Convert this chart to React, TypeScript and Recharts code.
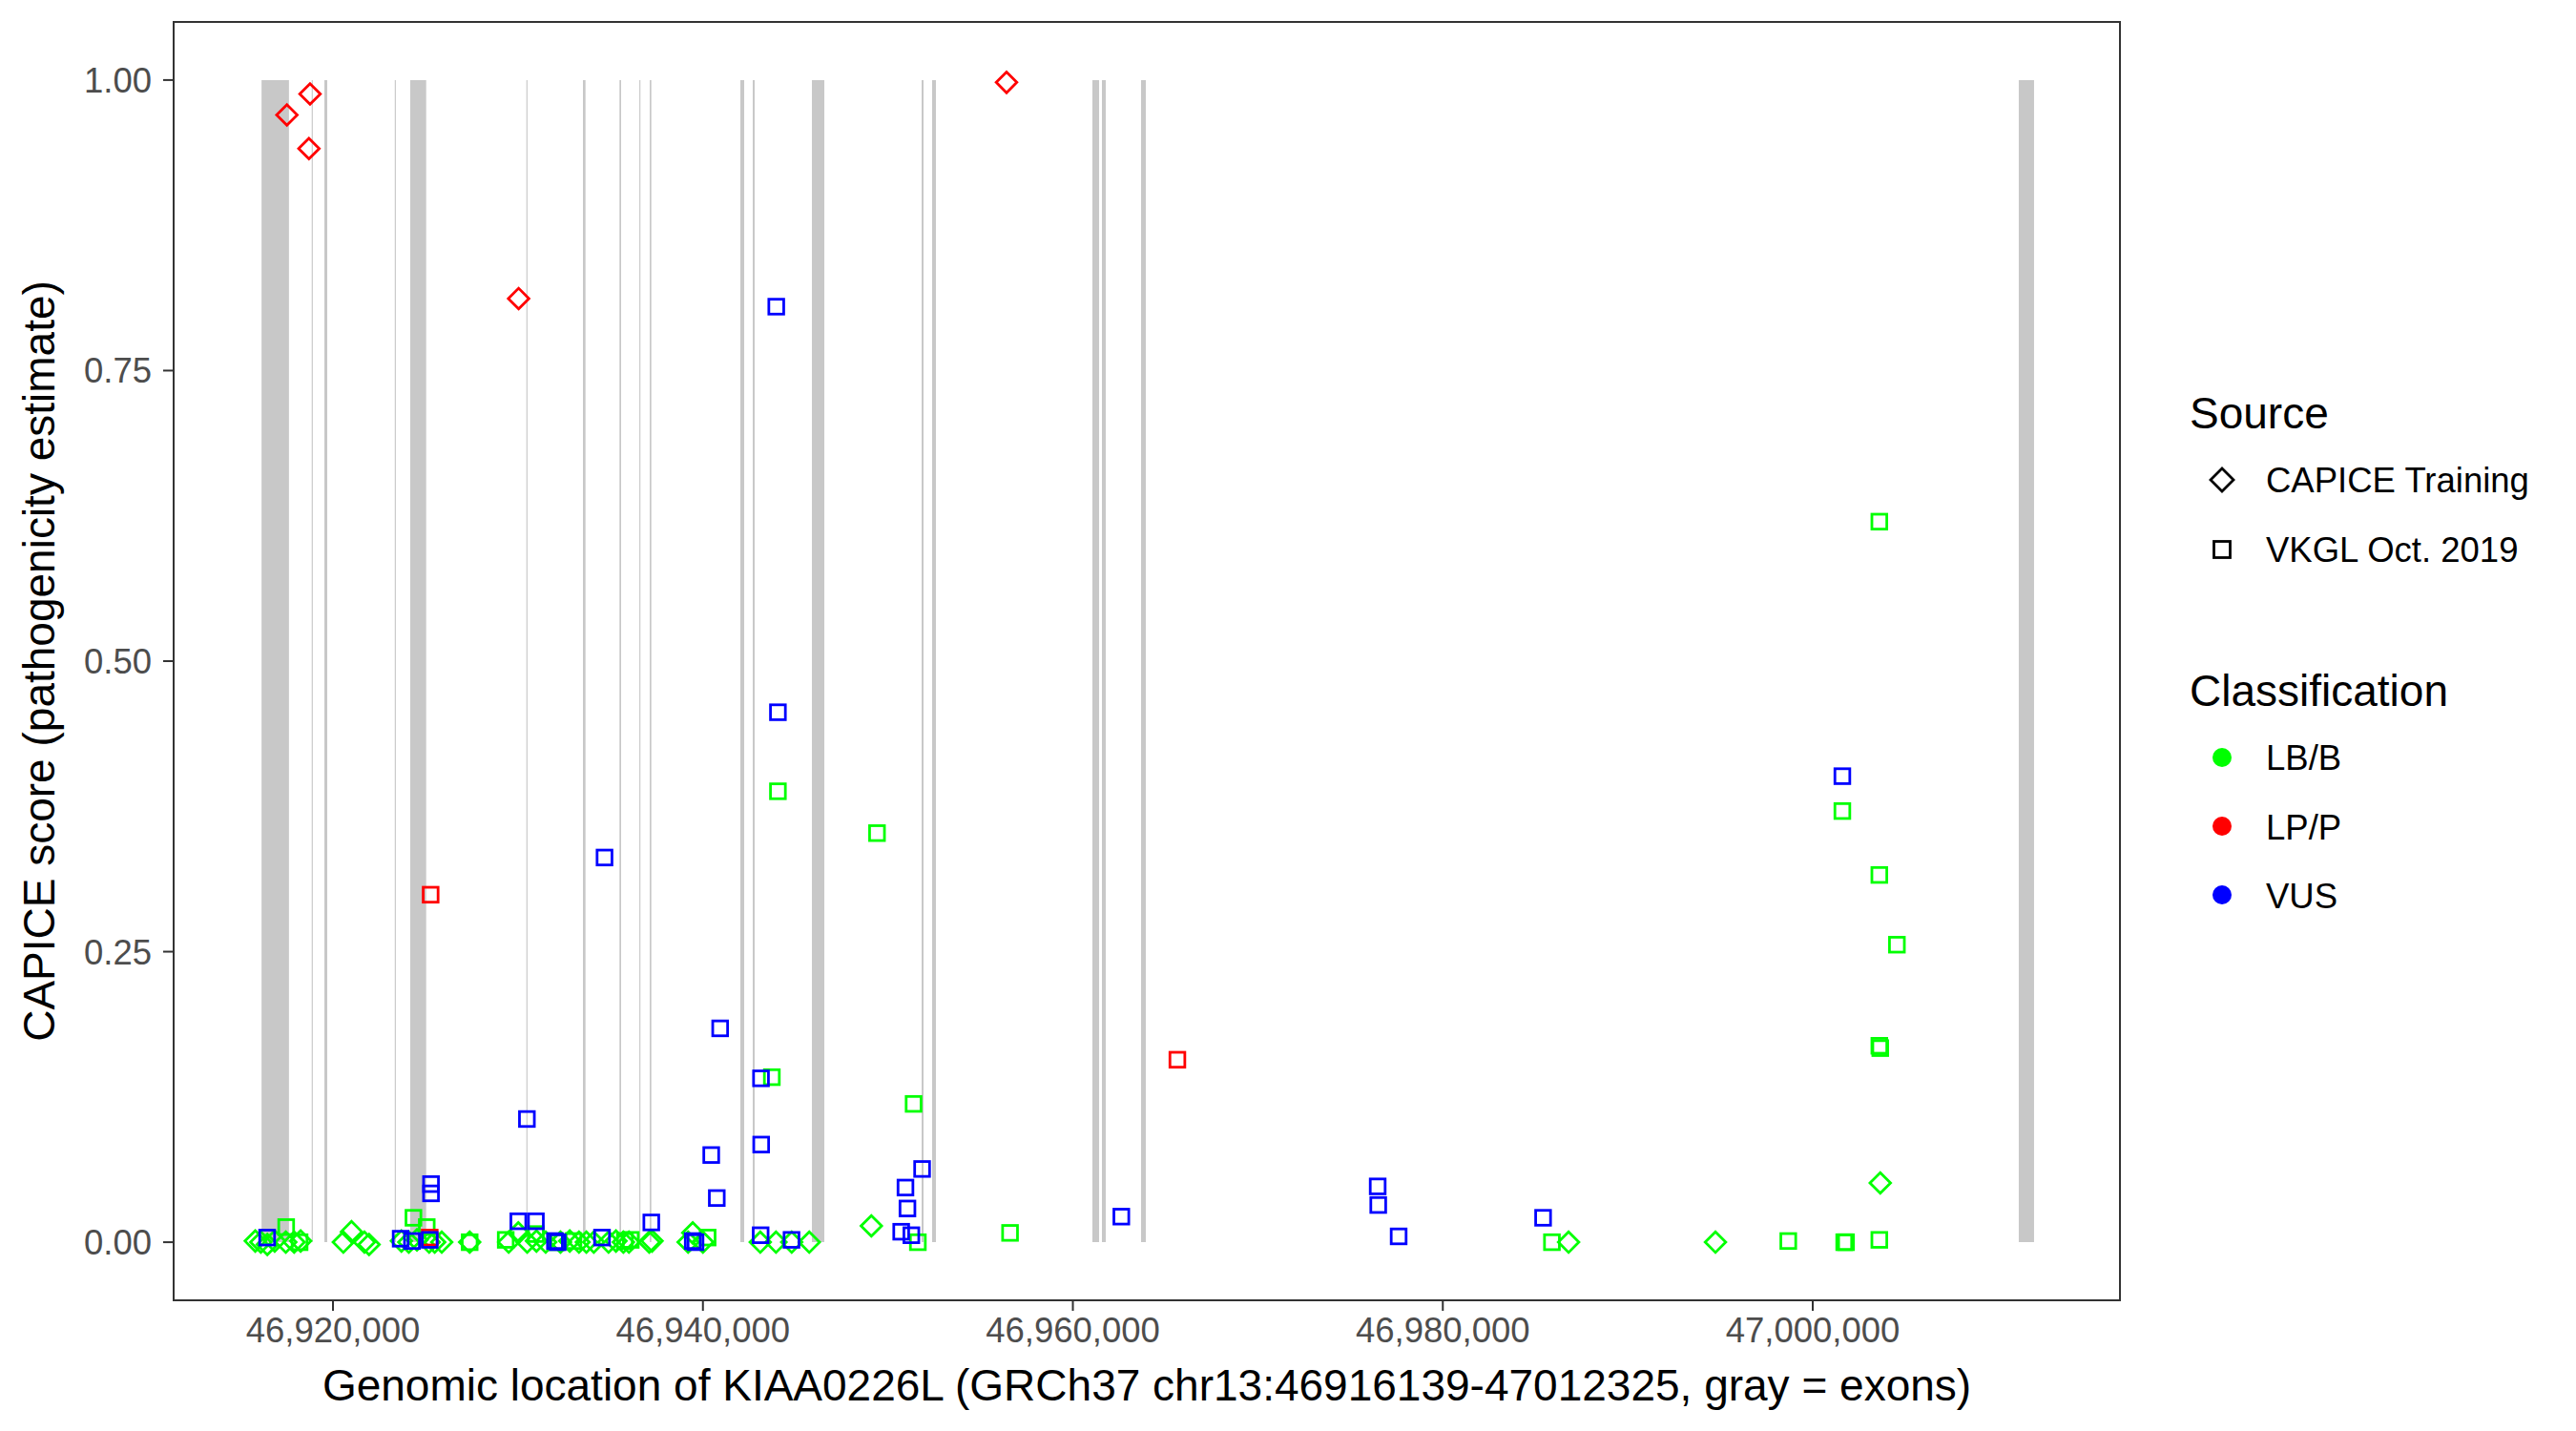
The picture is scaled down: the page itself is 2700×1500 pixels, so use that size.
import React from 'react';
import { ScatterChart, Scatter, XAxis, YAxis, ReferenceArea } from 'recharts';

// gene region on chr13 (GRCh37) and the exons drawn as gray bands
const xDomain = [46911386, 47016608];
const xTicks = [46920000, 46940000, 46960000, 46980000, 47000000];
const yTicks = [0, 0.25, 0.5, 0.75, 1];

const exonStarts = [
  46916139, 46918850, 46919535, 46923340, 46924177, 46930456, 46933513, 46935489,
  46936562, 46937124, 46942024, 46942694, 46945892, 46951823, 46952391, 46961056,
  46961572, 46963686, 47011138,
];
const exonEnds = [
  46917620, 46918910, 46919690, 46923400, 46925039, 46930516, 46933652, 46935576,
  46936622, 46937211, 46942230, 46942797, 46946563, 46951926, 46952597, 46961417,
  46961778, 46963944, 47011964,
];

// CAPICE training, LB/B
const capiceBenign = [
  { pos: 46915800, score: 0.001 }, { pos: 46916100, score: 0.0 }, { pos: 46916450, score: -0.002 },
  { pos: 46916850, score: 0.001 }, { pos: 46917450, score: 0.0 }, { pos: 46917900, score: 0.0 },
  { pos: 46918250, score: 0.001 }, { pos: 46920560, score: 0.0 }, { pos: 46921000, score: 0.009 },
  { pos: 46921700, score: 0.0 }, { pos: 46921950, score: -0.002 }, { pos: 46923700, score: 0.001 },
  { pos: 46924100, score: 0.0 }, { pos: 46924540, score: 0.002 }, { pos: 46925200, score: 0.0 },
  { pos: 46925500, score: 0.0 }, { pos: 46925880, score: 0.0 }, { pos: 46927390, score: 0.0 },
  { pos: 46929500, score: 0.0 }, { pos: 46930020, score: 0.008 }, { pos: 46930500, score: 0.0 },
  { pos: 46931000, score: 0.001 }, { pos: 46931500, score: 0.0 }, { pos: 46932300, score: 0.0 },
  { pos: 46932800, score: 0.001 }, { pos: 46933300, score: 0.0 }, { pos: 46933700, score: 0.0 },
  { pos: 46934100, score: 0.0 }, { pos: 46934900, score: 0.0 }, { pos: 46935300, score: 0.001 },
  { pos: 46935700, score: 0.0 }, { pos: 46936000, score: 0.0 }, { pos: 46937100, score: 0.0 },
  { pos: 46937250, score: 0.001 }, { pos: 46939200, score: 0.0 }, { pos: 46939450, score: 0.008 },
  { pos: 46940000, score: 0.0 }, { pos: 46943100, score: 0.0 }, { pos: 46943950, score: 0.0 },
  { pos: 46944800, score: 0.0 }, { pos: 46945750, score: 0.0 }, { pos: 46949105, score: 0.014 },
  { pos: 46986800, score: 0.0 }, { pos: 46994740, score: 0.0 }, { pos: 47003650, score: 0.051 },
];

// CAPICE training, LP/P
const capicePathogenic = [
  { pos: 46917510, score: 0.97 }, { pos: 46918760, score: 0.988 }, { pos: 46918700, score: 0.941 },
  { pos: 46930037, score: 0.812 }, { pos: 46956414, score: 0.998 },
];

// VKGL Oct. 2019, LB/B
const vkglBenign = [
  { pos: 46917470, score: 0.013 }, { pos: 46918195, score: 0.0 }, { pos: 46924350, score: 0.021 },
  { pos: 46925070, score: 0.013 }, { pos: 46927390, score: 0.0 }, { pos: 46929340, score: 0.002 },
  { pos: 46930970, score: 0.007 }, { pos: 46932070, score: 0.0 }, { pos: 46933000, score: 0.001 },
  { pos: 46935780, score: 0.001 }, { pos: 46936100, score: 0.002 }, { pos: 46940255, score: 0.004 },
  { pos: 46943726, score: 0.142 }, { pos: 46944055, score: 0.388 }, { pos: 46949412, score: 0.352 },
  { pos: 46951390, score: 0.119 }, { pos: 46951620, score: 0.0 }, { pos: 46956604, score: 0.008 },
  { pos: 46985900, score: 0.0 }, { pos: 46998677, score: 0.001 }, { pos: 47001700, score: 0.0 },
  { pos: 47001800, score: 0.0 }, { pos: 47001600, score: 0.371 }, { pos: 47003600, score: 0.002 },
  { pos: 47003600, score: 0.62 }, { pos: 47003600, score: 0.316 }, { pos: 47004550, score: 0.256 },
  { pos: 47003600, score: 0.169 }, { pos: 47003650, score: 0.167 },
];

// VKGL Oct. 2019, LP/P
const vkglPathogenic = [
  { pos: 46925280, score: 0.299 }, { pos: 46965650, score: 0.157 }, { pos: 46925230, score: 0.004 },
];

// VKGL Oct. 2019, VUS
const vkglVus = [
  { pos: 46916440, score: 0.004 }, { pos: 46923660, score: 0.003 }, { pos: 46924270, score: 0.001 },
  { pos: 46925230, score: 0.002 }, { pos: 46925300, score: 0.05 }, { pos: 46925300, score: 0.042 },
  { pos: 46930021, score: 0.018 }, { pos: 46930970, score: 0.018 }, { pos: 46932000, score: 0.001 },
  { pos: 46932150, score: 0.0 }, { pos: 46930484, score: 0.106 }, { pos: 46934545, score: 0.004 },
  { pos: 46934681, score: 0.331 }, { pos: 46937210, score: 0.017 }, { pos: 46939450, score: 0.001 },
  { pos: 46939600, score: 0.0 }, { pos: 46940450, score: 0.075 }, { pos: 46940750, score: 0.038 },
  { pos: 46940932, score: 0.184 }, { pos: 46943140, score: 0.141 }, { pos: 46943150, score: 0.084 },
  { pos: 46943120, score: 0.006 }, { pos: 46943966, score: 0.805 }, { pos: 46944055, score: 0.456 },
  { pos: 46944790, score: 0.002 }, { pos: 46950950, score: 0.047 }, { pos: 46951057, score: 0.029 },
  { pos: 46950720, score: 0.009 }, { pos: 46951267, score: 0.006 }, { pos: 46951850, score: 0.063 },
  { pos: 46962620, score: 0.022 }, { pos: 46976480, score: 0.048 }, { pos: 46976510, score: 0.032 },
  { pos: 46977613, score: 0.005 }, { pos: 46985422, score: 0.021 }, { pos: 47001600, score: 0.401 },
];

const GREEN = '#00ff00';
const RED = '#ff0000';
const BLUE = '#0000ff';
const FONT = '"Liberation Sans", Arial, Helvetica, sans-serif';

const squareShape = (color: string) => (props: any) => {
  const { cx, cy } = props;
  if (cx == null || cy == null) return <g />;
  return (
    <rect x={cx - 7.8} y={cy - 7.8} width={15.6} height={15.6}
      fill="none" stroke={color} strokeWidth={2.8} />
  );
};

const diamondShape = (color: string) => (props: any) => {
  const { cx, cy } = props;
  if (cx == null || cy == null) return <g />;
  const r = 10.8;
  return (
    <polygon
      points={`${cx},${cy - r} ${cx + r},${cy} ${cx},${cy + r} ${cx - r},${cy}`}
      fill="none" stroke={color} strokeWidth={2.8} strokeLinejoin="miter" />
  );
};

const LegendOverlay = () => (
  <svg width={2700} height={1500}
    style={{ position: 'absolute', left: 0, top: 0, pointerEvents: 'none' }}>
    <g fontFamily={FONT} fill="#000">
      <text x={2295} y={449} fontSize={46}>Source</text>
      <polygon points="2329,491 2341,503 2329,515 2317,503" fill="none" stroke="#000" strokeWidth={2.8} />
      <text x={2375} y={516} fontSize={36.5}>CAPICE Training</text>
      <rect x={2320.5} y={567.5} width={17} height={17} fill="none" stroke="#000" strokeWidth={2.8} />
      <text x={2375} y={589} fontSize={36.5}>VKGL Oct. 2019</text>

      <text x={2295} y={740} fontSize={46}>Classification</text>
      <circle cx={2329} cy={794} r={10} fill={GREEN} />
      <text x={2375} y={807} fontSize={36.5}>LB/B</text>
      <circle cx={2329} cy={866} r={10} fill={RED} />
      <text x={2375} y={880} fontSize={36.5}>LP/P</text>
      <circle cx={2329} cy={938} r={10} fill={BLUE} />
      <text x={2375} y={952} fontSize={36.5}>VUS</text>
    </g>
  </svg>
);

export default function App() {
  const tickStyle = { fontSize: 36.5, fill: '#4d4d4d', fontFamily: FONT };
  return (
    <div style={{ position: 'absolute', left: 0, top: 0, width: 2700, height: 1500, background: '#fff', fontFamily: FONT }}>
      <ScatterChart width={2700} height={1500} margin={{ top: 23, right: 478, bottom: 0, left: 0 }}>
        <XAxis
          type="number"
          dataKey="pos"
          domain={xDomain}
          ticks={xTicks}
          allowDataOverflow
          height={137}
          axisLine={false}
          tickLine={{ stroke: '#333333', strokeWidth: 2 }}
          tickSize={11}
          tickMargin={7}
          tick={tickStyle}
          tickFormatter={(v: number) => v.toLocaleString('en-US')}
          label={{
            value: 'Genomic location of KIAA0226L (GRCh37 chr13:46916139-47012325, gray = exons)',
            position: 'center',
            dy: 20,
            style: { fontSize: 46, fill: '#000', fontFamily: FONT },
          }}
        />
        <YAxis
          type="number"
          dataKey="score"
          domain={[-0.05, 1.05]}
          ticks={yTicks}
          allowDataOverflow
          width={182}
          axisLine={false}
          tickLine={{ stroke: '#333333', strokeWidth: 2 }}
          tickSize={11}
          tickMargin={12}
          tick={tickStyle}
          tickFormatter={(v: number) => v.toFixed(2)}
          label={{
            value: 'CAPICE score (pathogenicity estimate)',
            angle: -90,
            position: 'center',
            dx: -50,
            style: { fontSize: 46, fill: '#000', fontFamily: FONT },
          }}
        />
        {exonStarts.map((s, i) => (
          <ReferenceArea key={`exon-${i}`} x1={s} x2={exonEnds[i]} y1={0} y2={1}
            fill="#c8c8c8" fillOpacity={1} stroke="none" />
        ))}
        <Scatter name="CAPICE LB/B" data={capiceBenign} shape={diamondShape(GREEN)} isAnimationActive={false} />
        <Scatter name="VKGL LB/B" data={vkglBenign} shape={squareShape(GREEN)} isAnimationActive={false} />
        <Scatter name="CAPICE LP/P" data={capicePathogenic} shape={diamondShape(RED)} isAnimationActive={false} />
        <Scatter name="VKGL LP/P" data={vkglPathogenic} shape={squareShape(RED)} isAnimationActive={false} />
        <Scatter name="VKGL VUS" data={vkglVus} shape={squareShape(BLUE)} isAnimationActive={false} />
        <ReferenceArea x1={xDomain[0]} x2={xDomain[1]} y1={-0.05} y2={1.05}
          fill="none" stroke="#333333" strokeWidth={2} />
      </ScatterChart>
      <LegendOverlay />
    </div>
  );
}
